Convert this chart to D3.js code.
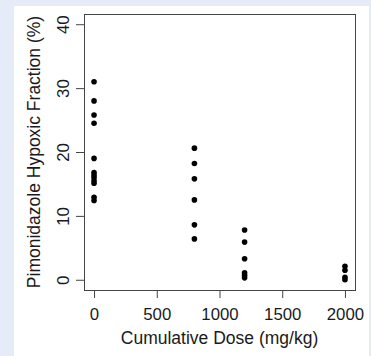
<!DOCTYPE html>
<html>
<head>
<meta charset="utf-8">
<script src="https://cdn.jsdelivr.net/npm/d3@7"></script>
<style>
  html, body { margin: 0; padding: 0; background: #e5ecf8; }
  svg { display: block; }
  text { font-family: "Liberation Sans", Arial, sans-serif; fill: #1a1a1a; }
</style>
</head>
<body>
<script>
// hypoxic fraction (%), one array per dose level
var doses = [0, 800, 1200, 2000];
var frac0 = [31.0, 28.0, 25.8, 24.5, 19.0, 16.8, 16.4, 16.0, 15.5, 15.1, 12.9, 12.4];
var frac800 = [20.6, 18.2, 15.8, 12.5, 8.6, 6.4];
var frac1200 = [7.8, 5.9, 3.3, 1.1, 0.7, 0.3];
var frac2000 = [2.1, 1.5, 0.4, 0.0];
var xTicks = [0, 500, 1000, 1500, 2000];
var yTicks = [0, 10, 20, 30, 40];

var groups = [frac0, frac800, frac1200, frac2000];
var data = [];
groups.forEach((g, i) => g.forEach(v => data.push({dose: doses[i], frac: v})));

var width = 371, height = 356;
var plotLeft = 84, plotRight = 355, plotTop = 14, plotBottom = 290;

var svg = d3.select("body").append("svg")
  .attr("width", width)
  .attr("height", height);

// white panel
svg.append("rect")
  .attr("x", 14).attr("y", 6)
  .attr("width", 355).attr("height", 350)
  .attr("fill", "white");

var x = d3.scaleLinear()
  .domain([-80, 2080])
  .range([plotLeft, plotRight]);

var y = d3.scaleLinear()
  .domain([-1.6, 41.6])
  .range([plotBottom, plotTop]);

var xAxis = g => g
  .attr("transform", `translate(0,${plotBottom})`)
  .call(d3.axisBottom(x).tickValues(xTicks).tickSize(8).tickFormat(d3.format("d")))
  .call(g => g.select(".domain").remove())
  .call(g => g.selectAll("line").attr("stroke", "#444"))
  .call(g => g.selectAll("text")
    .attr("y", 30).attr("dy", 0)
    .attr("font-size", 16.8)
    .attr("font-family", null));

var yAxis = g => g
  .attr("transform", `translate(${plotLeft},0)`)
  .call(d3.axisLeft(y).tickValues(yTicks).tickSize(8))
  .call(g => g.select(".domain").remove())
  .call(g => g.selectAll("line").attr("stroke", "#444"))
  .call(g => g.selectAll("text")
    .attr("transform", "rotate(-90)")
    .attr("x", 0).attr("y", -15.5).attr("dy", 0)
    .attr("text-anchor", "middle")
    .attr("font-size", 16.8)
    .attr("font-family", null));

svg.append("g").call(xAxis);
svg.append("g").call(yAxis);

// box
svg.append("rect")
  .attr("x", plotLeft + 0.5).attr("y", plotTop + 0.5)
  .attr("width", plotRight - plotLeft).attr("height", plotBottom - plotTop)
  .attr("fill", "none")
  .attr("stroke", "#444")
  .attr("stroke-width", 1);

svg.append("g")
  .selectAll("circle")
  .data(data)
  .join("circle")
    .attr("cx", d => x(d.dose))
    .attr("cy", d => y(d.frac))
    .attr("r", 2.8)
    .attr("fill", "black");

svg.append("text")
  .attr("x", (plotLeft + plotRight) / 2)
  .attr("y", 344)
  .attr("text-anchor", "middle")
  .attr("font-size", 17.5)
  .text("Cumulative Dose (mg/kg)");

svg.append("text")
  .attr("transform", `translate(40,${(plotTop + plotBottom) / 2}) rotate(-90)`)
  .attr("text-anchor", "middle")
  .attr("font-size", 17.5)
  .text("Pimonidazole Hypoxic Fraction (%)");
</script>
</body>
</html>
